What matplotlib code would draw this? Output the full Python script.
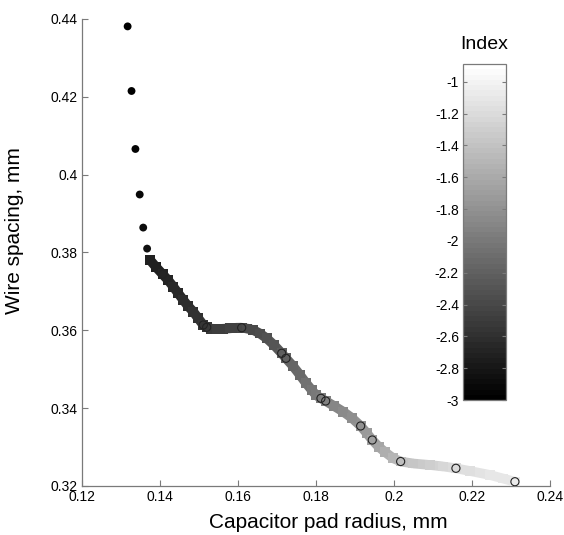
import matplotlib
matplotlib.use('Agg')
import matplotlib.pyplot as plt
import numpy as np
from matplotlib.collections import LineCollection
from matplotlib.colors import Normalize
from matplotlib.cm import ScalarMappable
from matplotlib.ticker import FormatStrFormatter

plt.rcParams['font.family'] = ['Liberation Sans', 'DejaVu Sans']

# filled circles at the top of the path
dot_x = [0.1317, 0.1327, 0.1337, 0.1348, 0.1357, 0.1367]
dot_y = [0.4381, 0.4215, 0.4066, 0.3949, 0.3864, 0.3810]
dot_idx = [-3.00, -2.98, -2.96, -2.93, -2.90, -2.86]

# thick band of square markers
band_x = [0.13744, 0.13897, 0.14069, 0.14205, 0.14341, 0.14462, 0.14597, 0.14718,
          0.14854, 0.14974, 0.15110, 0.15197, 0.15308, 0.15454, 0.15615, 0.15795,
          0.15949, 0.16095, 0.16231, 0.16392, 0.16564, 0.16736, 0.16923, 0.17121,
          0.17231, 0.17410, 0.17590, 0.17744, 0.17890, 0.18000, 0.18128, 0.18249,
          0.18462, 0.18700, 0.18923, 0.19146, 0.19300, 0.19444, 0.19615, 0.19769,
          0.19982, 0.20172, 0.20495, 0.20923, 0.21264, 0.21590, 0.21949, 0.22462,
          0.22795, 0.23103]
band_y = [0.37807, 0.37627, 0.37439, 0.37293, 0.37121, 0.36959, 0.36779, 0.36625,
          0.36478, 0.36317, 0.36137, 0.36078, 0.36042, 0.36034, 0.36039, 0.36052,
          0.36065, 0.36067, 0.36047, 0.36008, 0.35918, 0.35795, 0.35623, 0.35410,
          0.35281, 0.35083, 0.34852, 0.34646, 0.34467, 0.34338, 0.34253, 0.34184,
          0.34056, 0.33909, 0.33747, 0.33542, 0.33362, 0.33182, 0.33002, 0.32874,
          0.32712, 0.32629, 0.32578, 0.32540, 0.32501, 0.32455, 0.32385, 0.32283,
          0.32193, 0.32110]
band_idx = [-2.73, -2.72, -2.70, -2.68, -2.66, -2.65, -2.63, -2.61, -2.60, -2.58,
            -2.56, -2.54, -2.52, -2.50, -2.48, -2.46, -2.44, -2.42, -2.40, -2.38,
            -2.35, -2.32, -2.28, -2.24, -2.20, -2.15, -2.11, -2.07, -2.03, -2.00,
            -1.97, -1.94, -1.90, -1.86, -1.83, -1.79, -1.74, -1.68, -1.62, -1.56,
            -1.49, -1.43, -1.36, -1.29, -1.24, -1.19, -1.16, -1.12, -1.10, -1.08]

# open circle markers along the band
ring_x = [0.14069, 0.15110, 0.15197, 0.16095, 0.17121, 0.17231, 0.18128, 0.18249,
          0.19146, 0.19444, 0.20172, 0.21590, 0.23103]
ring_y = [0.37439, 0.36137, 0.36078, 0.36067, 0.35410, 0.35281, 0.34253, 0.34184,
          0.33542, 0.33182, 0.32629, 0.32455, 0.32110]

x_ticks = [0.12, 0.14, 0.16, 0.18, 0.2, 0.22, 0.24]
x_labels = ['0.12', '0.14', '0.16', '0.18', '0.2', '0.22', '0.24']
y_ticks = [0.32, 0.34, 0.36, 0.38, 0.4, 0.42, 0.44]
y_labels = ['0.32', '0.34', '0.36', '0.38', '0.4', '0.42', '0.44']
cbar_ticks = [-3, -2.8, -2.6, -2.4, -2.2, -2, -1.8, -1.6, -1.4, -1.2, -1]

cmap = plt.get_cmap('gray', 64)
norm = Normalize(vmin=-3, vmax=-0.89)
spine_col = '#7a7a7a'

fig = plt.figure(figsize=(5.64, 5.35), dpi=100)
ax = fig.add_axes([0.1454, 0.0916, 0.8296, 0.8729])

# band: thick coloured segments plus square markers
pts = np.column_stack([band_x, band_y])
segs = np.stack([pts[:-1], pts[1:]], axis=1)
seg_idx = (np.array(band_idx[:-1]) + np.array(band_idx[1:])) / 2
lc = LineCollection(segs, colors=cmap(norm(seg_idx)), linewidths=7.0,
                    capstyle='butt', zorder=2)
ax.add_collection(lc)
ax.scatter(band_x, band_y, c=band_idx, cmap=cmap, norm=norm, marker='s',
           s=50, linewidths=0, zorder=3)

ax.scatter(dot_x, dot_y, c=dot_idx, cmap=cmap, norm=norm, marker='o',
           s=32, linewidths=0, zorder=4)
ax.scatter(ring_x, ring_y, facecolors='none', edgecolors='#222222', marker='o',
           s=34, linewidths=0.8, zorder=5)

ax.set_xlim(0.12, 0.24)
ax.set_ylim(0.32, 0.44)
ax.set_xticks(x_ticks)
ax.set_xticklabels(x_labels)
ax.set_yticks(y_ticks)
ax.set_yticklabels(y_labels)
ax.tick_params(direction='in', length=4, width=0.8, color=spine_col,
               labelsize=10, labelcolor='black', pad=3)
for side in ['top', 'right']:
    ax.spines[side].set_visible(False)
for side in ['left', 'bottom']:
    ax.spines[side].set_color(spine_col)
    ax.spines[side].set_linewidth(0.9)

ax.set_xlabel('Capacitor pad radius, mm', fontsize=15)
ax.set_ylabel('Wire spacing, mm', fontsize=15)
ax.xaxis.set_label_coords(0.526, -0.058)
ax.yaxis.set_label_coords(-0.125, 0.548)

# colourbar
cax = fig.add_axes([0.821, 0.252, 0.076, 0.628])
sm = ScalarMappable(norm=norm, cmap=cmap)
cb = fig.colorbar(sm, cax=cax, ticks=cbar_ticks)
cb.ax.yaxis.set_ticks_position('left')
cb.ax.yaxis.set_major_formatter(FormatStrFormatter('%g'))
cb.ax.tick_params(direction='in', length=3, width=0.8, color=spine_col,
                  labelsize=10, left=True, right=True, pad=3)
cb.outline.set_edgecolor(spine_col)
cb.outline.set_linewidth(0.9)
cax.set_title('Index', fontsize=14, pad=11)

fig.savefig('out.png', dpi=100)
